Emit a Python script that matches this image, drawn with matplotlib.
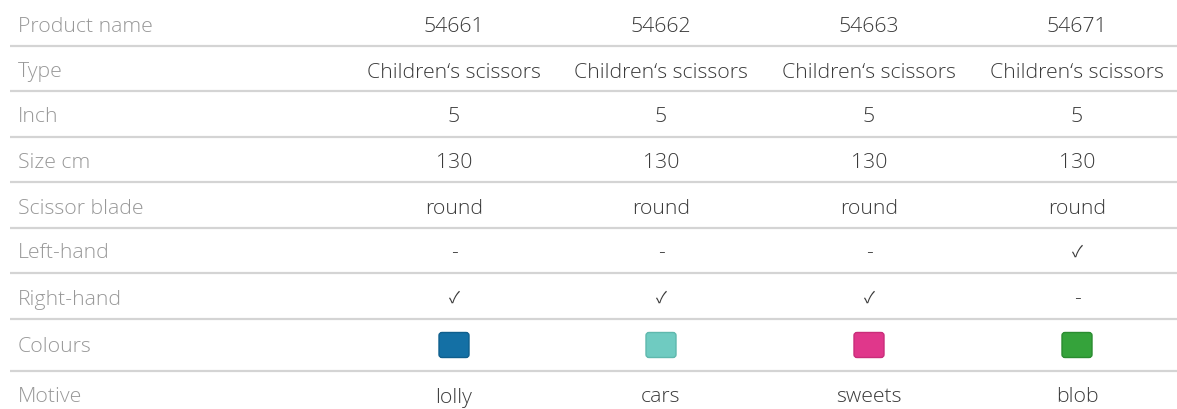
import matplotlib.pyplot as plt
from matplotlib.patches import FancyBboxPatch

plt.rcParams['font.family'] = ['Open Sans', 'DejaVu Sans']

row_labels = ['Product name', 'Type', 'Inch', 'Size cm', 'Scissor blade',
              'Left-hand', 'Right-hand', 'Colours', 'Motive']
products = ['54661', '54662', '54663', '54671']
types = ['Children\u2018s scissors'] * 4
inch = ['5', '5', '5', '5']
size_cm = ['130', '130', '130', '130']
blade = ['round', 'round', 'round', 'round']
left_hand = ['-', '-', '-', '\u2713']
right_hand = ['\u2713', '\u2713', '\u2713', '-']
colours = ['#1470a5', '#6fcbc1', '#e0378b', '#35a33b']
edge_colours = ['#0f5f8d', '#5fb8ad', '#c92d7a', '#2a8c30']
motives = ['lolly', 'cars', 'sweets', 'blob']

W, H = 1177, 409
fig = plt.figure(figsize=(W / 100, H / 100), dpi=100)
ax = fig.add_axes([0, 0, 1, 1])
ax.set_xlim(0, W)
ax.set_ylim(H, 0)
ax.axis('off')

row_y = [25, 70, 115, 160, 206, 251, 297, 345, 395]
line_y = [46, 91, 137, 182, 228, 273, 319, 371]
col_x = [454, 661, 869, 1077]

label_col = '#989898'
text_col = '#3a3a3a'
fs = 15.3

for y in line_y:
    ax.plot([10, W], [y, y], color='#d4d4d4', lw=1.6, solid_capstyle='butt')

for lab, y in zip(row_labels, row_y):
    ax.text(18, y, lab, color=label_col, fontsize=fs, va='center_baseline', ha='left',
            fontweight='light')

text_rows = [products, types, inch, size_cm, blade, left_hand, right_hand]
for vals, y in zip(text_rows, row_y):
    for v, x in zip(vals, col_x):
        if v == '\u2713':
            # light face has no check mark
            ax.text(x, y + 1, v, color=text_col, fontsize=11.5, ha='center', va='center',
                    family=['Noto Sans CJK SC', 'DejaVu Sans'])
        else:
            ax.text(x, y, v, color=text_col, fontsize=fs, ha='center',
                    va='center_baseline', fontweight='light')

# colour swatches
sw, sh = 30, 25
for c, ec, x in zip(colours, edge_colours, col_x):
    box = FancyBboxPatch((x - sw / 2, row_y[7] - sh / 2), sw, sh,
                         boxstyle='round,pad=0,rounding_size=3',
                         fc=c, ec=ec, lw=1)
    ax.add_patch(box)

for v, x in zip(motives, col_x):
    ax.text(x, row_y[8], v, color=text_col, fontsize=fs, ha='center', va='center_baseline',
            fontweight='light')

fig.savefig('out.png', dpi=100, facecolor='white')
